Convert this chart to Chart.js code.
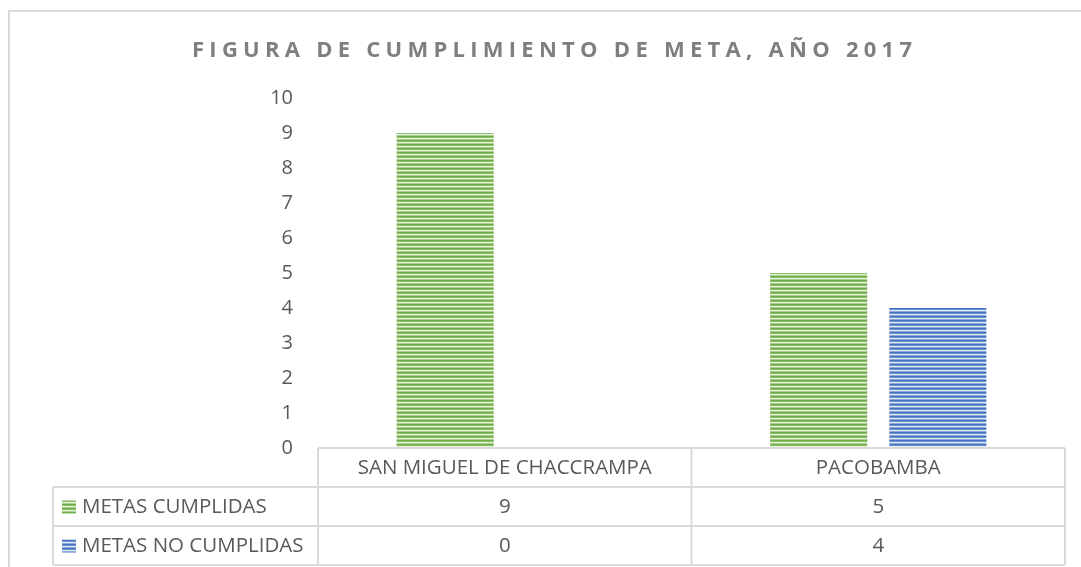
<!DOCTYPE html>
<html>
<head>
<meta charset="utf-8">
<script src="https://cdn.jsdelivr.net/npm/chart.js@4.4.1/dist/chart.umd.min.js"></script>
<style>
  html, body { margin: 0; padding: 0; background: #ffffff; }
  #wrap { width: 1081px; height: 567px; position: relative; }
</style>
</head>
<body>
<div id="wrap"><canvas id="c" width="1081" height="567"></canvas></div>
<script>
// ---- data ----
const chartTitle = 'FIGURA DE CUMPLIMIENTO DE META, AÑO 2017';
const categories = ['SAN MIGUEL DE CHACCRAMPA', 'PACOBAMBA'];
const seriesNames = ['METAS CUMPLIDAS', 'METAS NO CUMPLIDAS'];
const metasCumplidas = [9, 5];
const metasNoCumplidas = [0, 4];
const yTickValues = [0, 1, 2, 3, 4, 5, 6, 7, 8, 9, 10];

// ---- styles ----
const FONT = "'Open Sans', 'Noto Sans', sans-serif";
const TEXT = '#595959';
const LINE = '#d9d9d9';

function stripePattern(rows) {
  const cv = document.createElement('canvas');
  cv.width = 4; cv.height = rows.length;
  const g = cv.getContext('2d');
  rows.forEach((c, i) => { g.fillStyle = c; g.fillRect(0, i, 4, 1); });
  return g.createPattern(cv, 'repeat');
}
const greenPat = stripePattern(['#70ad47', '#8cbf6b', '#e6f1de', '#a9d08e']);
const bluePat = stripePattern(['#4472c4', '#6d8fd0', '#e1e8f6', '#8eaadb']);
const seriesFills = [greenPat, bluePat];

const tablePlugin = {
  id: 'tablePlugin',
  beforeDraw(chart) {
    const c = chart.ctx;
    c.save();
    c.strokeStyle = LINE; c.lineWidth = 2;
    c.beginPath();
    c.moveTo(9, 567); c.lineTo(9, 11); c.lineTo(1081, 11);
    c.stroke();
    // title
    c.fillStyle = '#7f7f7f';
    c.font = "bold 22px " + FONT;
    c.textBaseline = 'alphabetic';
    c.textAlign = 'left';
    const n = chartTitle.length;
    c.letterSpacing = '0px';
    const w0 = c.measureText(chartTitle).width;
    const target = 720;
    const sp = Math.max(0, (target - w0) / (n - 1));
    c.letterSpacing = sp + 'px';
    c.fillText(chartTitle, 192, 57);
    c.letterSpacing = '0px';
    c.restore();
  },
  afterDraw(chart) {
    const c = chart.ctx;
    const area = chart.chartArea;
    const xs = chart.scales.x;
    const top = area.bottom;
    const rowH = 39;
    const leftCol = 53;
    const colEdges = [area.left];
    for (let i = 0; i < categories.length - 1; i++) {
      colEdges.push((xs.getPixelForValue(i) + xs.getPixelForValue(i + 1)) / 2);
    }
    colEdges.push(area.right);
    c.save();
    c.strokeStyle = LINE; c.lineWidth = 2;
    c.beginPath();
    c.moveTo(area.left, top); c.lineTo(area.right, top);
    for (let r = 1; r <= seriesNames.length; r++) {
      c.moveTo(leftCol, top + rowH * r); c.lineTo(area.right, top + rowH * r);
    }
    const bottom = top + rowH * (seriesNames.length + 1);
    c.moveTo(leftCol, bottom); c.lineTo(area.right, bottom);
    colEdges.forEach(x => { c.moveTo(x, top); c.lineTo(x, bottom); });
    c.moveTo(leftCol, top + rowH); c.lineTo(leftCol, bottom);
    c.stroke();
    c.fillStyle = TEXT;
    c.font = "20.5px " + FONT;
    c.textAlign = 'center'; c.textBaseline = 'middle';
    categories.forEach((cat, i) => {
      c.fillText(cat, (colEdges[i] + colEdges[i + 1]) / 2, top + rowH / 2 + 1);
    });
    const vals = [metasCumplidas, metasNoCumplidas];
    seriesNames.forEach((s, r) => {
      const y = top + rowH * (r + 1) + rowH / 2 + 1;
      c.fillStyle = TEXT;
      vals[r].forEach((v, i) => {
        c.textAlign = 'center';
        c.fillText(String(v), (colEdges[i] + colEdges[i + 1]) / 2, y);
      });
      c.fillStyle = seriesFills[r];
      c.fillRect(62, y - 7, 14, 13);
      c.fillStyle = TEXT;
      c.textAlign = 'left';
      c.fillText(s, 82, y);
    });
    c.restore();
  }
};

new Chart(document.getElementById('c'), {
  type: 'bar',
  data: {
    labels: categories,
    datasets: [
      { label: seriesNames[0], data: metasCumplidas, backgroundColor: seriesFills[0], borderWidth: 0 },
      { label: seriesNames[1], data: metasNoCumplidas, backgroundColor: seriesFills[1], borderWidth: 0 }
    ]
  },
  options: {
    responsive: false,
    animation: false,
    devicePixelRatio: 1,
    layout: { padding: { top: 98, bottom: 119, left: 0, right: 16 } },
    datasets: { bar: { categoryPercentage: 0.638, barPercentage: 0.815 } },
    plugins: { legend: { display: false }, title: { display: false }, tooltip: { enabled: false } },
    scales: {
      x: { display: false },
      y: {
        min: 0, max: 10,
        afterFit(scale) { scale.width = 318; },
        afterBuildTicks(scale) { scale.ticks = yTickValues.map(v => ({ value: v })); },
        grid: { display: false, drawTicks: false },
        border: { display: false },
        ticks: { color: TEXT, font: { family: FONT, size: 20 }, padding: 25 }
      }
    }
  },
  plugins: [tablePlugin]
});
</script>
</body>
</html>
